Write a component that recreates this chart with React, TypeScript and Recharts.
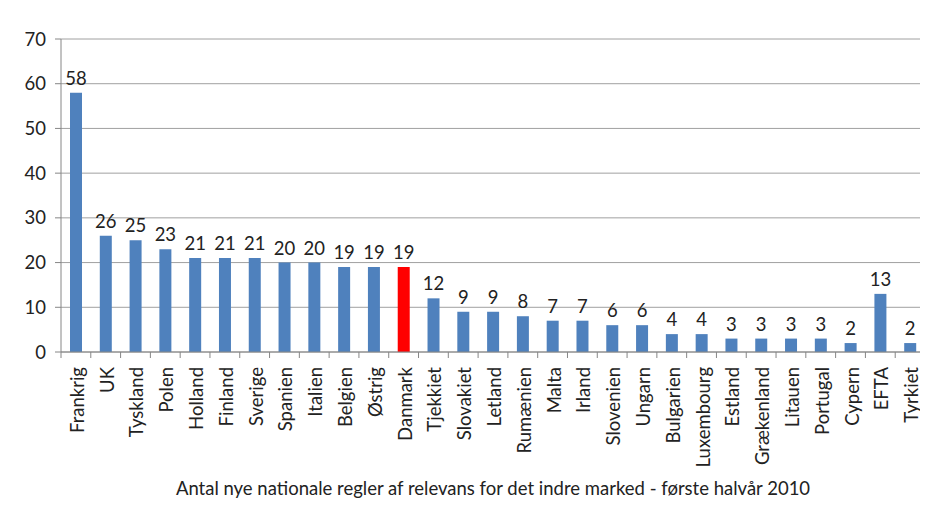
import { Bar, BarChart, CartesianGrid, Cell, LabelList, XAxis, YAxis } from "recharts";

const countries = [
  "Frankrig", "UK", "Tyskland", "Polen", "Holland", "Finland", "Sverige", "Spanien",
  "Italien", "Belgien", "Østrig", "Danmark", "Tjekkiet", "Slovakiet", "Letland",
  "Rumænien", "Malta", "Irland", "Slovenien", "Ungarn", "Bulgarien", "Luxembourg",
  "Estland", "Grækenland", "Litauen", "Portugal", "Cypern", "EFTA", "Tyrkiet",
];
const rules = [58, 26, 25, 23, 21, 21, 21, 20, 20, 19, 19, 19, 12, 9, 9, 8, 7, 7, 6, 6, 4, 4, 3, 3, 3, 3, 2, 13, 2];
const yTicks = [0, 10, 20, 30, 40, 50, 60, 70];
const highlight = "Danmark";
const title = "Antal nye nationale regler af relevans for det indre marked - første halvår 2010";

const data = countries.map((name, i) => ({ name, value: rules[i] }));

const W = 920;
const H = 507;
const margin = { top: 31, right: 3, left: 0, bottom: 43 };
const yAxisWidth = 53;
const font = "Lato, 'Open Sans', sans-serif";
const fs = 18.5;
const band = (W - margin.left - margin.right - yAxisWidth) / countries.length;

function CountryTick(props: any) {
  const { x, y, payload, index } = props;
  const left = x - band / 2;
  return (
    <g>
      <line x1={left} y1={y - 8} x2={left} y2={y - 2} stroke="#868686" />
      {index === countries.length - 1 && (
        <line x1={left + band} y1={y - 8} x2={left + band} y2={y - 2} stroke="#868686" />
      )}
      <text
        transform={`translate(${x + 1},${y + 7}) rotate(-90)`}
        textAnchor="end"
        dominantBaseline="central"
        fontSize={fs}
        fill="#222"
        fontFamily={font}
      >
        {payload.value}
      </text>
    </g>
  );
}

export default function App() {
  return (
    <div
      style={{
        position: "relative",
        width: W,
        height: H,
        marginLeft: -1,
        marginTop: -1,
        borderTop: "1px solid #8c8c8c",
        borderLeft: "1px solid #8c8c8c",
        background: "#fff",
        fontFamily: font,
      }}
    >
      <BarChart width={W} height={H} data={data} margin={margin} barSize={12}>
        <CartesianGrid vertical={false} stroke="#a0a0a0" />
        <XAxis
          dataKey="name"
          interval={0}
          tickLine={false}
          axisLine={{ stroke: "#868686" }}
          tick={<CountryTick />}
          height={120}
        />
        <YAxis
          domain={[0, 70]}
          ticks={yTicks}
          width={yAxisWidth}
          axisLine={{ stroke: "#868686" }}
          tickLine={{ stroke: "#868686" }}
          tickSize={6}
          tickMargin={9}
          tick={{ fontSize: fs, fill: "#222", fontFamily: font }}
        />
        <Bar dataKey="value" isAnimationActive={false}>
          {data.map((d) => (
            <Cell key={d.name} fill={d.name === highlight ? "#ff0000" : "#4f81bd"} />
          ))}
          <LabelList dataKey="value" position="top" offset={8} fontSize={fs} fill="#222" fontFamily={font} />
        </Bar>
      </BarChart>
      <div
        style={{
          position: "absolute",
          left: yAxisWidth,
          width: W - yAxisWidth - margin.right,
          top: 469,
          textAlign: "center",
          fontSize: fs,
          color: "#222",
        }}
      >
        {title}
      </div>
    </div>
  );
}
